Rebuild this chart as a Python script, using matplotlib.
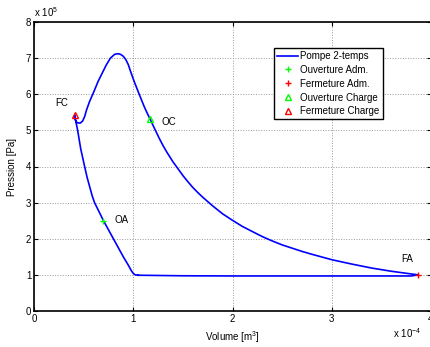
import matplotlib
matplotlib.use("Agg")
import matplotlib.pyplot as plt

# Cycle data: volume in 1e-4 m^3, pressure in 1e5 Pa
volume = [1.05, 1.02, 1.00, 0.98, 0.95, 0.90, 0.85, 0.80, 0.75, 0.70, 0.655, 0.61,
          0.585, 0.56, 0.535, 0.51, 0.49, 0.47, 0.455, 0.44, 0.425, 0.41,
          0.415, 0.425, 0.44, 0.465, 0.49, 0.51, 0.53, 0.56, 0.60, 0.645, 0.69,
          0.73, 0.77, 0.81, 0.835, 0.855, 0.875, 0.90, 0.925, 0.95, 0.977, 1.01,
          1.06, 1.11, 1.14, 1.17, 1.22, 1.26, 1.30, 1.34, 1.40, 1.45, 1.50, 1.55,
          1.60, 1.65, 1.70, 1.75, 1.80, 1.90, 2.00, 2.10, 2.20, 2.30, 2.40, 2.50,
          2.60, 2.70, 2.80, 3.00, 3.20, 3.40, 3.60, 3.87,
          3.80, 3.00, 2.00, 1.50, 1.20, 1.05]
pressure = [0.99, 1.00, 1.04, 1.12, 1.27, 1.50, 1.75, 2.00, 2.25, 2.50, 2.75, 3.00,
            3.20, 3.45, 3.70, 4.00, 4.25, 4.50, 4.75, 5.00, 5.20, 5.43,
            5.30, 5.24, 5.21, 5.20, 5.26, 5.38, 5.57, 5.80, 6.05, 6.35, 6.60,
            6.82, 7.00, 7.10, 7.12, 7.12, 7.10, 7.05, 6.96, 6.82, 6.60, 6.35,
            6.00, 5.66, 5.48, 5.31, 5.02, 4.79, 4.58, 4.39, 4.13, 3.94, 3.75, 3.58,
            3.42, 3.28, 3.15, 3.03, 2.91, 2.69, 2.51, 2.34, 2.20, 2.06, 1.94, 1.83,
            1.74, 1.65, 1.57, 1.42, 1.30, 1.19, 1.10, 1.00,
            0.97, 0.97, 0.97, 0.975, 0.985, 0.99]

# Valve events: (volume, pressure)
oa = (0.70, 2.50)   # Ouverture Adm.
fa = (3.87, 1.00)   # Fermeture Adm.
oc = (1.17, 5.31)   # Ouverture Charge
fc = (0.41, 5.43)   # Fermeture Charge

plt.rcParams['font.family'] = ['Liberation Sans', 'DejaVu Sans']
plt.rcParams['font.size'] = 7
plt.rcParams['mathtext.fontset'] = 'custom'
plt.rcParams['mathtext.rm'] = 'Liberation Sans'

fig = plt.figure(figsize=(4.3, 3.47), dpi=100)
ax = fig.add_axes([34 / 430, 36 / 347, 397 / 430, 289 / 347])

ax.plot(volume, pressure, color=(0, 0, 1), lw=1.2, label="Pompe 2-temps")
ax.plot(*oa, '+', color=(0, 1, 0), ms=4, mew=1, label="Ouverture Adm.")
ax.plot(*fa, '+', color=(1, 0, 0), ms=4, mew=1, label="Fermeture Adm.")
ax.plot(*oc, '^', color=(0, 1, 0), mfc='none', ms=4, mew=1, label="Ouverture Charge")
ax.plot(*fc, '^', color=(1, 0, 0), mfc='none', ms=4, mew=1, label="Fermeture Charge")

ax.text(0.28, 5.76, "FC", ha='center', va='center')
ax.text(1.36, 5.24, "OC", ha='center', va='center')
ax.text(0.88, 2.51, "OA", ha='center', va='center')
ax.text(3.76, 1.44, "FA", ha='center', va='center')

ax.set_xlim(0, 4)
ax.set_ylim(0, 8)
ax.set_xticks([0, 1, 2, 3, 4])
ax.set_yticks(range(9))
ax.tick_params(direction='in', top=True, right=True, length=3, width=0.8, pad=2)
ax.grid(True, linestyle=':', color='0.6', lw=0.7)
for s in ax.spines.values():
    s.set_linewidth(1.2)

ax.set_xlabel("Volume [m$^3$]", labelpad=4)
ax.set_ylabel("Pression [Pa]", labelpad=6)
ax.text(0.0, 1.01, "x 10$^5$", transform=ax.transAxes, ha='left', va='bottom')
ax.text(0.905, -0.078, "x 10$^{-4}$", transform=ax.transAxes, ha='left', va='center')

leg = ax.legend(loc='upper left', bbox_to_anchor=(0.605, 0.91), fancybox=False,
                edgecolor='black', framealpha=1, handlelength=2.2, handletextpad=0.2,
                labelspacing=0.4, borderpad=0.3, borderaxespad=0)
leg.get_frame().set_linewidth(1.0)

fig.savefig("out.png", dpi=100)
